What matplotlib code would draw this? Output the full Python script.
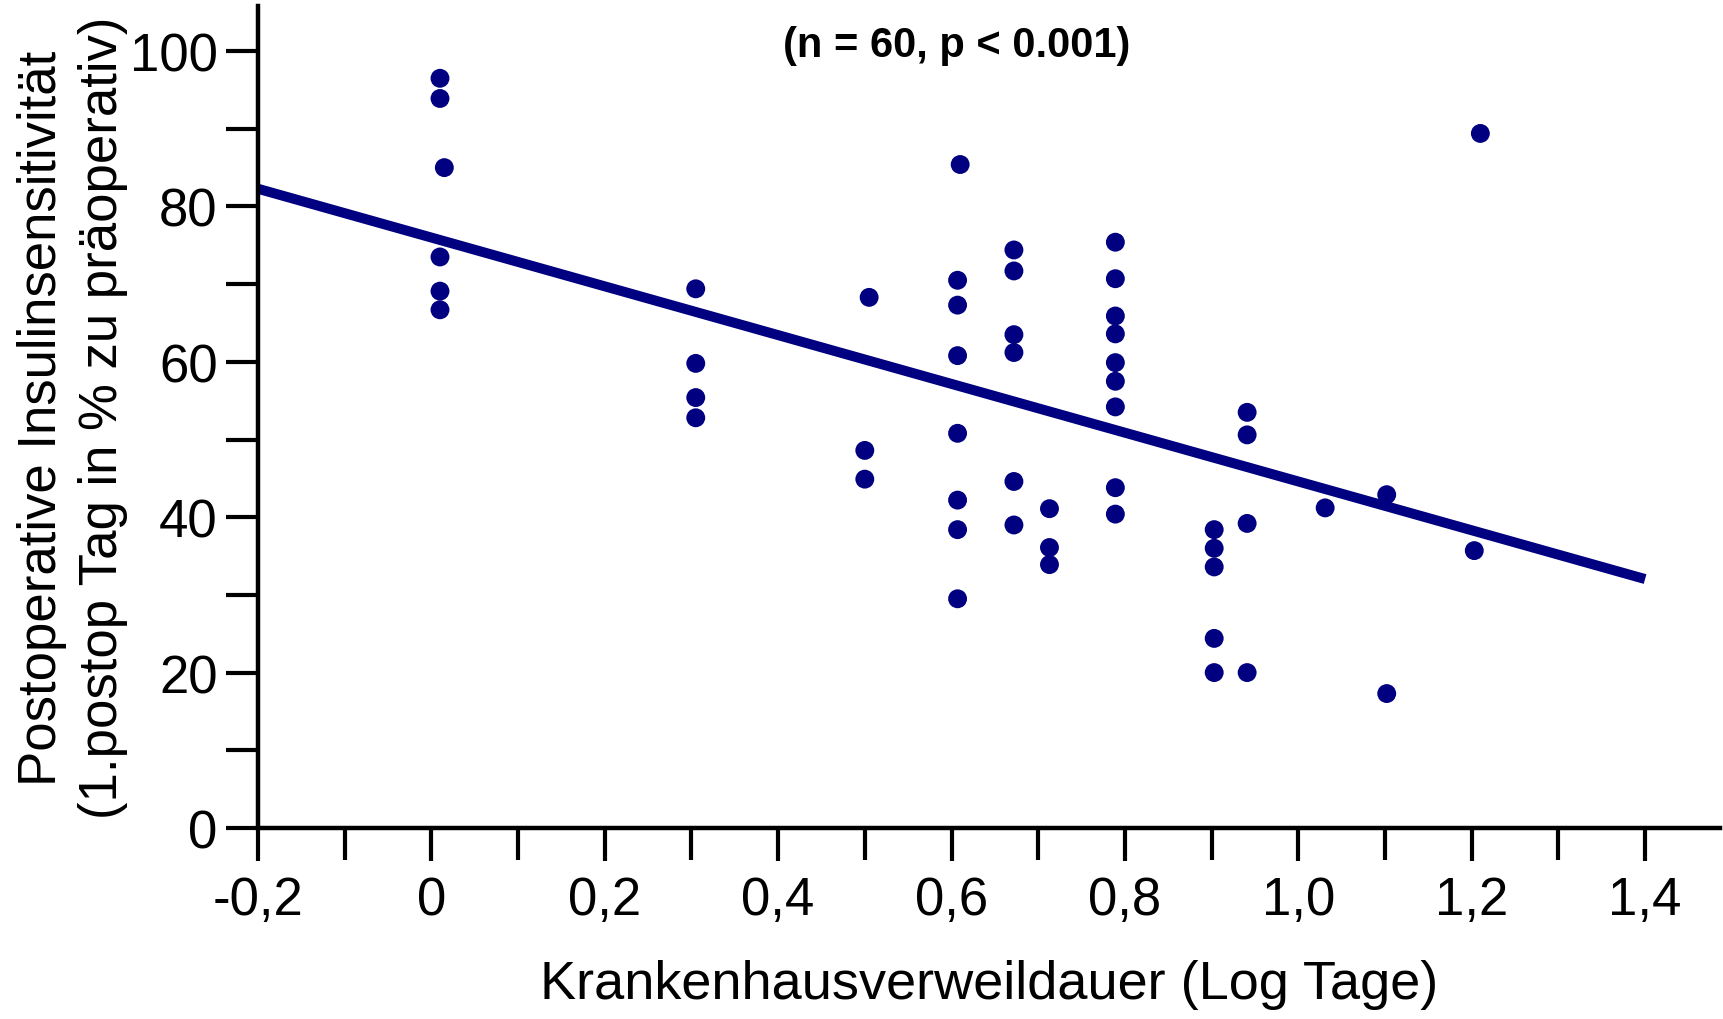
import matplotlib.pyplot as plt
import numpy as np
from matplotlib.ticker import MultipleLocator, FuncFormatter

plt.rcParams['font.family'] = ['Liberation Sans', 'DejaVu Sans']

# log length of stay (days) and postoperative insulin sensitivity (% of preop)
log_days = [0.01, 0.01, 0.015, 0.01, 0.01, 0.01,
            0.305, 0.305, 0.305, 0.305,
            0.505, 0.50, 0.50,
            0.61, 0.607, 0.607, 0.607, 0.607, 0.607, 0.607, 0.607,
            0.672, 0.672, 0.672, 0.672, 0.672, 0.672,
            0.713, 0.713, 0.713,
            0.789, 0.789, 0.789, 0.789, 0.789, 0.789, 0.789, 0.789, 0.789,
            0.903, 0.903, 0.903, 0.903, 0.903,
            0.941, 0.941, 0.941, 0.941,
            1.031,
            1.102, 1.102,
            1.203,
            1.21]
sensitivity = [96.5, 93.9, 85.0, 73.5, 69.1, 66.7,
               69.4, 59.8, 55.4, 52.8,
               68.3, 48.6, 44.9,
               85.4, 70.5, 67.3, 60.8, 50.8, 42.2, 38.4, 29.5,
               74.4, 71.7, 63.5, 61.2, 44.6, 39.0,
               41.1, 36.1, 33.9,
               75.4, 70.7, 65.9, 63.6, 59.9, 57.5, 54.2, 43.8, 40.4,
               38.4, 36.0, 33.6, 24.4, 20.0,
               53.5, 50.6, 39.2, 20.0,
               41.2,
               42.9, 17.3,
               35.7,
               89.4]

# regression line
fit_intercept = 76.0
fit_slope = -31.4
fit_range = [-0.2, 1.4]

navy = '#000080'

fig = plt.figure(figsize=(17.23, 10.20), dpi=100)
ax = fig.add_axes([0.1497, 0.1873, 0.8486, 0.8058])

ax.scatter(log_days, sensitivity, s=185, color=navy, edgecolors='none', zorder=3)
fx = np.array(fit_range)
ax.plot(fx, fit_intercept + fit_slope * fx, color=navy, lw=7.2,
        solid_capstyle='butt', zorder=2)

ax.set_xlim(-0.2, 1.4865)
ax.set_ylim(0, 105.8)

for side in ['top', 'right']:
    ax.spines[side].set_visible(False)
for side in ['left', 'bottom']:
    ax.spines[side].set_linewidth(3.2)

ax.xaxis.set_major_locator(MultipleLocator(0.2))
ax.xaxis.set_minor_locator(MultipleLocator(0.1))
ax.yaxis.set_major_locator(MultipleLocator(20))
ax.yaxis.set_minor_locator(MultipleLocator(10))


def comma_fmt(v, pos):
    if abs(v) < 1e-9:
        return '0'
    return f'{v:.1f}'.replace('.', ',')


ax.xaxis.set_major_formatter(FuncFormatter(comma_fmt))
ax.yaxis.set_major_formatter(FuncFormatter(lambda v, p: f'{v:.0f}'))

ax.tick_params(which='both', direction='out', width=3.0, labelsize=38)
ax.tick_params(axis='x', which='major', length=24, pad=10)
ax.tick_params(axis='x', which='minor', length=23)
ax.tick_params(axis='y', which='both', length=23, pad=6)

ax.set_xlabel('Krankenhausverweildauer (Log Tage)', fontsize=39, labelpad=24)
ax.set_ylabel('Postoperative Insulinsensitivität\n(1.postop Tag in % zu präoperativ)',
              fontsize=38, linespacing=1.28, labelpad=1)

ax.text(0.478, 0.953, '(n = 60, p < 0.001)', transform=ax.transAxes,
        ha='center', va='center', fontsize=30, fontweight='bold')

fig.savefig('out.png', dpi=100)
